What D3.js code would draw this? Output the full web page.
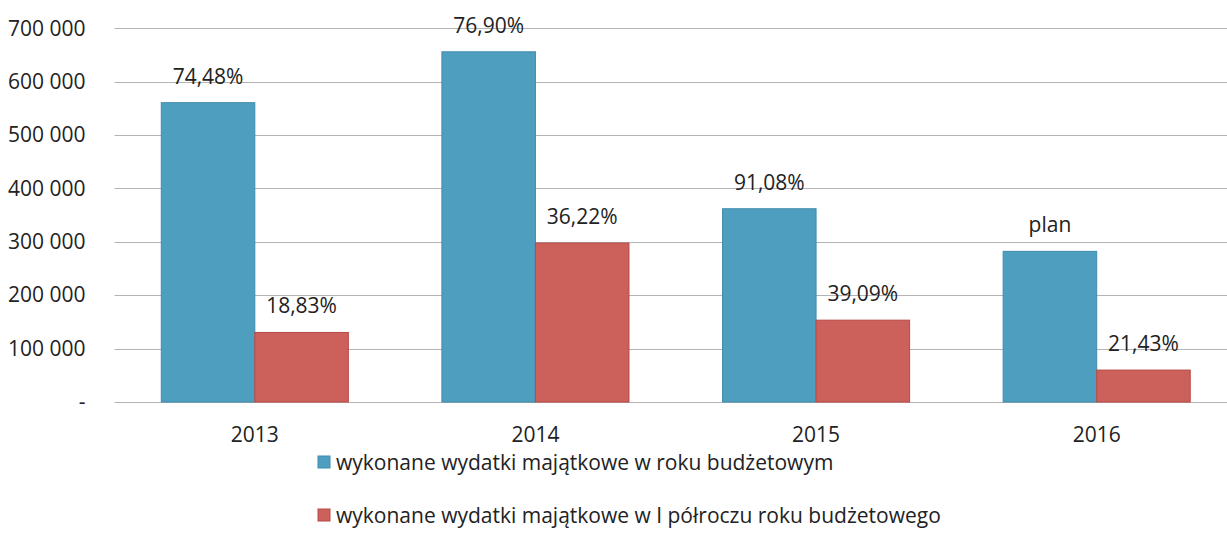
<!DOCTYPE html>
<html>
<head>
<meta charset="utf-8">
<script src="https://cdn.jsdelivr.net/npm/d3@7"></script>
<style>
  body { margin: 0; background: #fff; }
  svg { font-family: "Open Sans", sans-serif; }
  .grid line { stroke: #b4b4b4; stroke-width: 1; }
  .lbl { font-family: "Open Sans", sans-serif; font-size: 21px; fill: #222; }
</style>
</head>
<body>
<svg id="chart" width="1227" height="542"></svg>
<script>
// data
const years = ['2013', '2014', '2015', '2016'];
const annualSpend = [560700, 656000, 362000, 282200];
const halfYearSpend = [130300, 297800, 153300, 59800];
const annualLabels = ['74,48%', '76,90%', '91,08%', 'plan'];
const halfYearLabels = ['18,83%', '36,22%', '39,09%', '21,43%'];
const yTicks = [0, 100000, 200000, 300000, 400000, 500000, 600000, 700000];
const seriesNames = ['wykonane wydatki majątkowe w roku budżetowym',
    'wykonane wydatki majątkowe w I półroczu roku budżetowego'];
const colors = ['#4e9ec0', '#cb615a'];
const strokes = ['#3f8caf', '#b84a45'];

const svg = d3.select('#chart');

const X0 = 114.5, X1 = 1237, Y0 = 402, Y1 = 28.3;

// scales
const xScale = d3.scaleBand()
    .range([X0, X1])
    .domain(years)
    .paddingInner(1 / 3)
    .paddingOuter(1 / 6);

const xSub = d3.scaleBand()
    .range([0, xScale.bandwidth()])
    .domain([0, 1]);

const yScale = d3.scaleLinear()
    .range([Y0, Y1])
    .domain([0, 700000]);

// gridlines
svg.append('g')
    .attr('class', 'grid')
    .selectAll('line')
    .data(yTicks)
    .enter()
    .append('line')
    .attr('x1', X0)
    .attr('x2', X1)
    .attr('y1', (d) => Math.round(yScale(d)) + 0.5)
    .attr('y2', (d) => Math.round(yScale(d)) + 0.5);

// y axis labels
const fmt = (d) => d === 0 ? '-' : d3.format(',')(d).replace(/,/g, ' ');
const yAxis = svg.append('g')
    .attr('transform', `translate(${X0}, 0)`)
    .call(d3.axisLeft(yScale).tickValues(yTicks).tickFormat(fmt).tickSize(0).tickPadding(29));
yAxis.select('.domain').remove();
yAxis.selectAll('text')
    .attr('class', 'lbl')
    .attr('fill', '#222');

// x axis labels
const xAxis = svg.append('g')
    .attr('transform', `translate(0, ${Y0})`)
    .call(d3.axisBottom(xScale).tickSize(0).tickPadding(25));
xAxis.select('.domain').remove();
xAxis.selectAll('text')
    .attr('class', 'lbl')
    .attr('fill', '#222');

// bars
const series = [annualSpend, halfYearSpend];
const labels = [annualLabels, halfYearLabels];

series.forEach((vals, s) => {
    const g = svg.append('g');
    g.selectAll('rect')
        .data(vals)
        .enter()
        .append('rect')
        .attr('x', (d, i) => xScale(years[i]) + xSub(s))
        .attr('y', (d) => yScale(d))
        .attr('width', xSub.bandwidth())
        .attr('height', (d) => Y0 - yScale(d))
        .attr('fill', colors[s])
        .attr('stroke', strokes[s])
        .attr('stroke-width', 1);

    g.selectAll('text')
        .data(vals)
        .enter()
        .append('text')
        .attr('class', 'lbl')
        .attr('x', (d, i) => xScale(years[i]) + xSub(s) + xSub.bandwidth() / 2)
        .attr('y', (d) => yScale(d) - 19)
        .attr('text-anchor', 'middle')
        .text((d, i) => labels[s][i]);
});

// legend
const legend = svg.append('g');
seriesNames.forEach((name, s) => {
    const ly = 462 + s * 53;
    legend.append('rect')
        .attr('x', 318)
        .attr('y', ly - 6)
        .attr('width', 12)
        .attr('height', 12)
        .attr('fill', colors[s])
        .attr('stroke', strokes[s]);
    legend.append('text')
        .attr('class', 'lbl')
        .attr('x', 336)
        .attr('y', ly + 7.5)
        .text(name);
});
</script>
</body>
</html>
